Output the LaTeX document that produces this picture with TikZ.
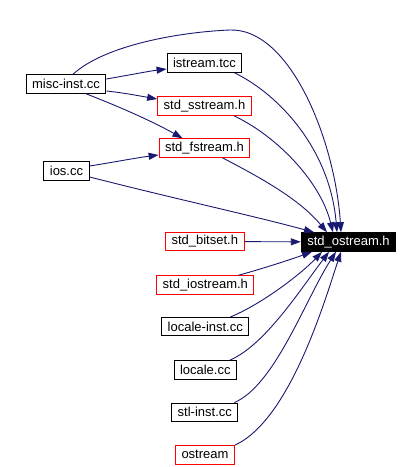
\documentclass[tikz,border=0pt]{standalone}
\usepackage{fontspec}
\setmainfont{Liberation Sans}
\usepackage{xcolor}
\usetikzlibrary{arrows.meta,positioning}
\definecolor{edgeblue}{RGB}{25,25,112}
\definecolor{boxred}{RGB}{255,0,0}

\begin{document}
\begin{tikzpicture}[
  x=1pt, y=-1pt,
  every node/.style={font=\fontsize{13}{15}\selectfont},
  box/.style={draw=black, fill=white, line width=1pt, minimum height=18.5pt, inner xsep=6pt, inner ysep=0pt},
  redbox/.style={box, draw=boxred},
  mainbox/.style={box, fill=black, text=white},
  arr/.style={-{Triangle[length=10pt,width=7pt,fill=edgeblue]}, draw=edgeblue, line width=0.9pt}
]
\useasboundingbox (0,0) rectangle (420,467);
\node[box] (misc) at (66,84) {misc-inst.cc};
\node[box] (itcc) at (204.5,63) {istream.tcc};
\node[redbox] (sstr) at (204.5,106) {std\_sstream.h};
\node[redbox] (fstr) at (204.5,148) {std\_fstream.h};
\node[box] (ios) at (66.5,171) {ios.cc};
\node[mainbox] (osh) at (348.5,242) {std\_ostream.h};
\node[redbox] (bits) at (204.8,241.5) {std\_bitset.h};
\node[redbox] (iostr) at (205.3,285) {std\_iostream.h};
\node[box] (lcinst) at (205.3,326.7) {locale-inst.cc};
\node[box] (lcc) at (205.3,369.8) {locale.cc};
\node[box] (stl) at (204.8,412.3) {stl-inst.cc};
\node[redbox] (ostr) at (205,454.8) {ostream};

\draw[arr] ([yshift=5pt]misc.east) .. controls (135,74) and (150,71) .. ([yshift=-6pt]itcc.west);
\draw[arr] ([yshift=-7pt]misc.east) .. controls (125,93) and (140,96) .. ([yshift=7pt]sstr.west);
\draw[arr] ([xshift=20pt]misc.south) .. controls (115,105) and (150,120) .. ([xshift=-22pt]fstr.north);
\draw[arr] ([yshift=5pt]ios.east) .. controls (115,162) and (135,158) .. ([yshift=-7pt]fstr.west);
\draw[arr] ([xshift=7pt]misc.north) .. controls (105,45) and (180,32) .. (230,30)
  .. controls (290,28) and (335,140) .. ([xshift=-7.5pt]osh.north);
\draw[arr] ([xshift=-8pt]itcc.south east) .. controls (280,95) and (330,150) .. ([xshift=-11.5pt]osh.north);
\draw[arr] ([xshift=-18pt]sstr.south east) .. controls (275,135) and (320,180) .. ([xshift=-15.5pt]osh.north);
\draw[arr] ([xshift=-28pt]fstr.south east) .. controls (265,180) and (300,200) .. ([xshift=-21.5pt]osh.north);
\draw[arr] ([yshift=-6pt]ios.east) .. controls (180,200) and (250,215) .. ([xshift=-34.5pt]osh.north);
\draw[arr] (bits) -- (osh);
\draw[arr] ([xshift=-16pt]iostr.north east) .. controls (265,268) and (295,258) .. ([xshift=-36.5pt]osh.south);
\draw[arr] ([xshift=-19pt]lcinst.north east) .. controls (260,305) and (300,275) .. ([xshift=-26.5pt]osh.south);
\draw[arr] ([xshift=-7pt]lcc.north east) .. controls (265,345) and (300,290) .. ([xshift=-19.5pt]osh.south);
\draw[arr] ([xshift=-4pt]stl.north east) .. controls (275,385) and (305,300) .. ([xshift=-12.5pt]osh.south);
\draw[arr] (ostr.north east) .. controls (290,420) and (325,300) .. ([xshift=-7.5pt]osh.south);
\end{tikzpicture}
\end{document}
